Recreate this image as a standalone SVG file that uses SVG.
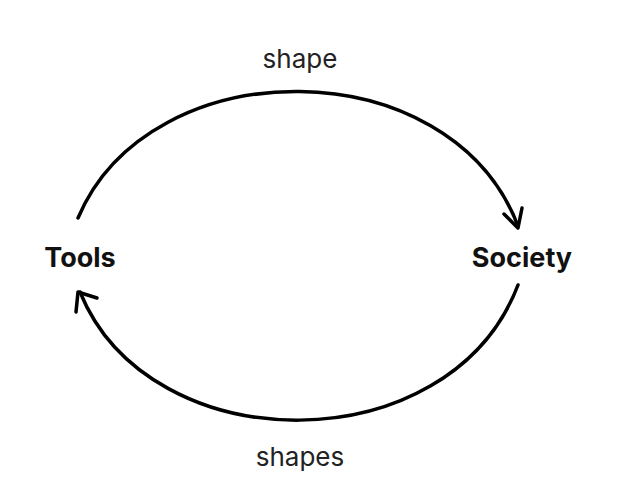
<svg xmlns="http://www.w3.org/2000/svg" width="640" height="504" viewBox="0 0 640 504">
<style>
.c{fill:none;stroke:#000;stroke-width:3.5;stroke-linecap:round;stroke-linejoin:round}
.l{font-family:Inter,"Liberation Sans",sans-serif;font-size:26px;fill:#222;text-anchor:middle}
.n{font-family:Inter,"Liberation Sans",sans-serif;font-size:27px;font-weight:bold;fill:#111;text-anchor:middle}
</style>
<rect width="640" height="504" fill="#fff"/>
<g id="connectors">
<path class="c" d="M78,218 C150,48 450,48 518,226"/>
<path class="c" d="M504,214 L518,228 L522,208"/>
<path class="c" d="M518,285 C450,464 150,464 80,292"/>
<path class="c" d="M76,312 L78,292 L97,298"/>
</g>
<text class="l" x="300" y="68">shape</text>
<text class="l" x="300" y="466">shapes</text>
<g id="tools"><text class="n" x="80" y="267">Tools</text></g>
<g id="society"><text class="n" x="522" y="267">Society</text></g>
</svg>
